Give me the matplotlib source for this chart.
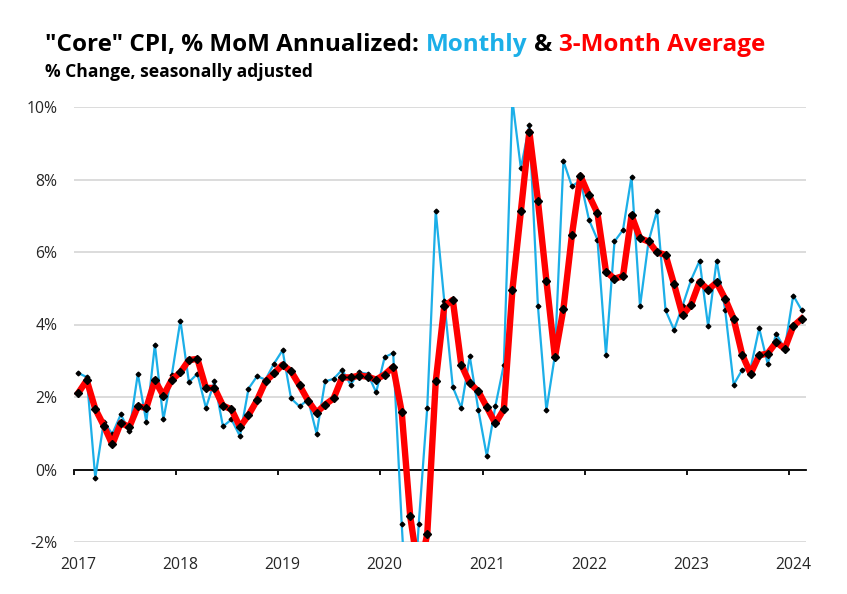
import numpy as np
import matplotlib
matplotlib.use('Agg')
import matplotlib.pyplot as plt

plt.rcParams['font.family'] = ['Open Sans', 'DejaVu Sans']

# core CPI, % MoM annualized, Jan 2017 .. Feb 2024
monthly = [2.66, 2.55, -0.23, 1.32, 0.98, 1.52, 1.05, 2.64, 1.31, 3.44, 1.38, 2.62,
           4.11, 2.41, 2.64, 1.70, 2.43, 1.19, 1.38, 0.92, 2.23, 2.57, 2.48, 2.92,
           3.29, 1.96, 1.74, 1.93, 0.99, 2.43, 2.50, 2.75, 2.34, 2.68, 2.64, 2.13,
           3.10, 3.21, -1.50, -5.57, -1.50, 1.70, 7.13, 4.65, 2.28, 1.70, 3.12, 1.65,
           0.37, 1.74, 2.89, 10.2, 8.31, 9.50, 4.52, 1.63, 3.15, 8.51, 7.81, 7.98,
           6.89, 6.34, 3.17, 6.29, 6.61, 8.08, 4.50, 6.29, 7.14, 4.39, 3.85, 4.52,
           5.23, 5.76, 3.95, 5.76, 4.41, 2.34, 2.75, 2.80, 3.90, 2.91, 3.75, 3.33,
           4.80, 4.39]
avg3 = [2.11, 2.46, 1.67, 1.21, 0.69, 1.29, 1.17, 1.74, 1.70, 2.46, 2.04, 2.48,
        2.68, 3.02, 3.05, 2.25, 2.25, 1.76, 1.66, 1.17, 1.50, 1.91, 2.43, 2.65,
        2.89, 2.71, 2.32, 1.90, 1.57, 1.79, 1.96, 2.54, 2.54, 2.59, 2.56, 2.48,
        2.62, 2.83, 1.59, -1.29, -2.86, -1.79, 2.43, 4.50, 4.68, 2.89, 2.38, 2.16,
        1.72, 1.27, 1.66, 4.94, 7.12, 9.32, 7.42, 5.21, 3.10, 4.43, 6.47, 8.10,
        7.56, 7.07, 5.46, 5.26, 5.34, 7.01, 6.38, 6.29, 5.99, 5.92, 5.11, 4.25,
        4.55, 5.18, 4.96, 5.16, 4.71, 4.16, 3.17, 2.64, 3.15, 3.20, 3.51, 3.33,
        3.95, 4.16]
years = ['2017', '2018', '2019', '2020', '2021', '2022', '2023', '2024']
y_ticks = [-2, 0, 2, 4, 6, 8, 10]

BLUE = '#1CAFE8'
RED = '#FF0000'


def main():
    fig = plt.figure(figsize=(8.47, 5.94), dpi=100)
    ax = fig.add_axes([74 / 847, 1 - 542 / 594, 732 / 847, 435 / 594])

    x = np.arange(len(monthly))
    ax.plot(x, monthly, color=BLUE, lw=1.6, marker='D', ms=2.4,
            mfc='black', mec='black', zorder=3)
    ax.plot(x, avg3, color=RED, lw=4.6, marker='D', ms=3.6,
            mfc='black', mec='black', zorder=4)

    ax.set_xlim(-0.5, len(monthly) - 0.5)
    ax.set_ylim(-2, 10)

    # y axis: gridlines only
    ax.set_yticks(y_ticks)
    ax.set_yticklabels([f'{v}%' for v in y_ticks], fontsize=11.3, color='#262626')
    ax.tick_params(axis='y', length=0, pad=12)
    ax.yaxis.grid(True, color='#d9d9d9', lw=1.3)
    ax.set_axisbelow(True)

    for s in ['left', 'right', 'top']:
        ax.spines[s].set_visible(False)

    # x axis crosses at 0, tick marks between years
    ax.spines['bottom'].set_position(('data', 0))
    ax.spines['bottom'].set_linewidth(1.3)
    ax.spines['bottom'].set_zorder(2)
    year_pos = [12 * k for k in range(len(years))]
    ax.set_xticks([p - 0.5 for p in year_pos])
    ax.set_xticklabels([])
    ax.tick_params(axis='x', direction='out', length=3.5, width=1.3)

    # year labels at the bottom of the plot
    sec = ax.secondary_xaxis('bottom')
    sec.set_xticks(year_pos)
    sec.set_xticklabels(years, fontsize=11.3, color='#262626')
    sec.tick_params(length=0, pad=11)
    sec.spines['bottom'].set_visible(False)

    # title in pieces
    tsize = 17.5
    t1 = fig.text(45 / 847, 1 - 51 / 594, '"Core" CPI, % MoM Annualized:',
                  fontsize=tsize, fontweight='bold', va='baseline')
    t2 = fig.text(0, 0, 'Monthly', fontsize=tsize, fontweight='bold', color=BLUE)
    t3 = fig.text(0, 0, '&', fontsize=tsize, fontweight='bold')
    t4 = fig.text(0, 0, '3-Month Average', fontsize=tsize, fontweight='bold', color=RED)
    fig.canvas.draw()
    r = fig.canvas.get_renderer()
    gap = tsize * 0.28 / 72 * fig.dpi
    prev = t1
    for t in [t2, t3, t4]:
        bb = prev.get_window_extent(r)
        t.set_position(((bb.x1 + gap) / fig.bbox.width, t1.get_position()[1]))
        t.set_va('baseline')
        prev = t
        fig.canvas.draw()

    fig.text(45 / 847, 1 - 77 / 594, '% Change, seasonally adjusted',
             fontsize=12.6, fontweight='bold', va='baseline')

    plt.savefig('out.png', dpi=100)


if __name__ == '__main__':
    main()
